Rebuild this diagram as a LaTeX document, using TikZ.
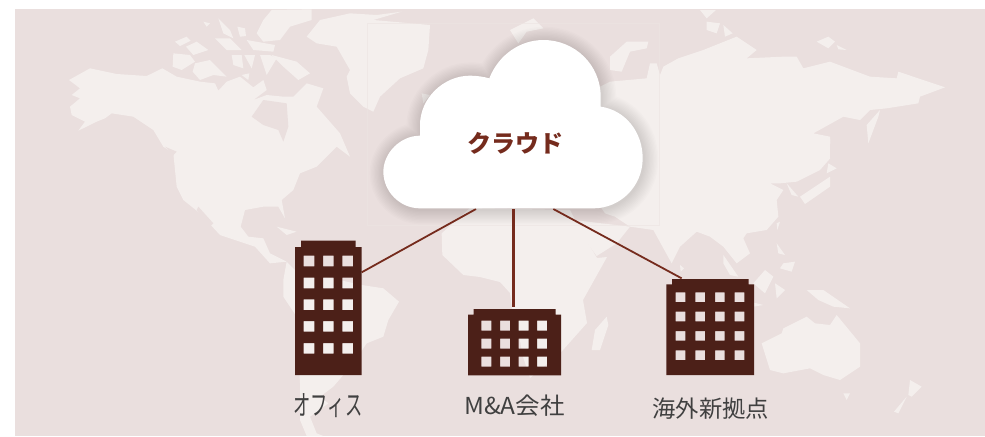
\documentclass[tikz,border=0pt]{standalone}
\usepackage{fontspec}
\newfontfamily\cjk{Noto Sans CJK JP}
\definecolor{seabg}{HTML}{EADFDE}
\definecolor{land}{HTML}{F4EFED}
\definecolor{frameline}{HTML}{EDE4E2}
\definecolor{bldg}{HTML}{4C2018}
\definecolor{wire}{HTML}{752B1D}
\definecolor{lbl}{HTML}{404040}
\tikzset{
  landpart/.style={fill=land,draw=none},
  seapart/.style={fill=seabg,draw=none},
  bldgbody/.style={fill=bldg,even odd rule,draw=none},
  wireline/.style={draw=wire,line width=1.35pt},
  bldglabel/.style={text=lbl,inner sep=0pt,font=\cjk\fontsize{17.5}{20}\selectfont},
  cloudlabel/.style={text=wire,inner sep=0pt,font=\cjk\bfseries\fontsize{18}{21}\selectfont}
}
\newcommand{\cloudshape}{(150,550) .. controls (90,550) and (40,500) .. (40,440) .. controls (40,385) and (90,332) .. (150,332) -- (150,300) .. controls (150,220) and (220,152) .. (300,152) .. controls (320,152) and (340,155) .. (358,160) .. controls (385,90) and (450,45) .. (520,45) .. controls (615,45) and (692,120) .. (692,215) -- (692,245) .. controls (765,255) and (818,320) .. (818,400) .. controls (818,485) and (750,550) .. (670,550) -- cycle}
\begin{document}
\begin{tikzpicture}[x=.25pt,y=-.25pt]
\useasboundingbox (0,0) rectangle (2955,1308);
\fill[white] (0,0) rectangle (2955,1308);
\fill[seabg] (45,27) rectangle (2955,1308);
\begin{scope}
\clip (45,27) rectangle (2955,1308);
% ---- Americas, Greenland, Arctic
\fill[landpart] (207,240) -- (270,205) -- (350,222) -- (440,228) -- (487,205) -- (530,230) -- (600,245) -- (645,250) -- (655,272) -- (680,245) -- (720,230) -- (760,262) -- (790,240) -- (800,270) -- (760,300) -- (800,285) -- (850,290) -- (880,290) -- (920,250) -- (970,265) -- (950,320) -- (985,360) -- (1020,400) -- (1050,470) -- (1010,440) -- (950,500) -- (900,520) -- (880,570) -- (845,600) -- (855,655) -- (835,620) -- (790,620) -- (735,630) -- (722,680) -- (745,710) -- (790,715) -- (810,760) -- (860,785) -- (810,790) -- (765,740) -- (720,725) -- (660,705) -- (600,640) -- (550,600) -- (530,560) -- (520,460) -- (490,440) -- (460,390) -- (400,350) -- (335,340) -- (315,355) -- (290,365) -- (235,392) -- (255,365) -- (215,345) -- (210,320) -- (240,295) -- (215,285) -- (240,265) -- cycle;
\fill[seapart] (755,350) -- (790,300) -- (860,310) -- (865,380) -- (850,425) -- (835,390) -- (790,375) -- cycle;
\fill[seapart] (495,440) -- (530,455) -- (520,465) -- cycle;
\fill[seapart] (595,620) -- (640,670) -- (630,680) -- (590,630) -- cycle;
\fill[landpart] (830,680) -- (890,695) -- (860,705) -- cycle;
\fill[landpart] (860,785) -- (885,810) -- (1085,855) -- (1150,865) -- (1197,905) -- (1165,960) -- (1150,1010) -- (1100,1030) -- (1060,1090) -- (1000,1160) -- (960,1190) -- (985,1210) -- (930,1250) -- (950,1300) -- (970,1308) -- (920,1308) -- (900,1260) -- (900,1150) -- (890,950) -- (850,890) -- (850,840) -- cycle;
\fill[landpart] (920,110) -- (960,60) -- (1050,40) -- (1130,45) -- (1205,35) -- (1120,60) -- (1290,75) -- (1285,150) -- (1270,205) -- (1200,235) -- (1140,290) -- (1120,335) -- (1090,320) -- (1050,280) -- (1040,230) -- (1050,210) -- (1010,140) -- (950,130) -- cycle;
\fill[landpart] (770,100) -- (790,60) -- (815,30) -- (935,28) -- (935,60) -- (870,80) -- (840,120) -- (790,125) -- cycle;
\fill[landpart] (525,125) -- (560,110) -- (572,122) -- (540,138) -- cycle;
\fill[landpart] (558,140) -- (590,125) -- (625,150) -- (580,165) -- cycle;
\fill[landpart] (520,160) -- (570,165) -- (585,185) -- (545,210) -- (518,200) -- cycle;
\fill[landpart] (585,190) -- (630,180) -- (680,230) -- (640,225) -- (600,240) -- (578,215) -- cycle;
\fill[landpart] (610,65) -- (630,70) -- (620,80) -- cycle;
\fill[landpart] (655,55) -- (690,90) -- (700,115) -- (670,100) -- cycle;
\fill[landpart] (645,115) -- (690,115) -- (725,150) -- (680,150) -- cycle;
\fill[landpart] (712,80) -- (735,85) -- (738,108) -- (720,110) -- cycle;
\fill[landpart] (740,120) -- (825,135) -- (820,155) -- (760,150) -- cycle;
\fill[landpart] (695,165) -- (725,165) -- (730,205) -- (700,195) -- cycle;
\fill[landpart] (733,165) -- (765,165) -- (755,205) -- cycle;
\fill[landpart] (780,165) -- (810,165) -- (830,175) -- (800,225) -- cycle;
\fill[landpart] (815,165) -- (890,185) -- (930,220) -- (895,240) -- (850,200) -- cycle;
\fill[landpart] (725,225) -- (748,220) -- (745,240) -- cycle;
\fill[landpart] (1265,280) -- (1290,285) -- (1270,310) -- cycle;
% ---- Africa
\fill[landpart] (1410,624) -- (1325,700) -- (1327,765) -- (1390,825) -- (1440,831) -- (1500,846) -- (1530,879) -- (1536,924) -- (1554,990) -- (1569,1071) -- (1590,1134) -- (1680,1060) -- (1761,969) -- (1749,900) -- (1821,771) -- (1791,774) -- (1740,690) -- (1710,630) -- cycle;
\begin{scope}[shift={(1470,0)}]
\fill[landpart] (250,660) -- (420,680) -- (380,730) -- (320,768) -- (270,700) -- cycle;
\fill[landpart] (350,950) -- (355,975) -- (330,1050) -- (305,1050) -- (315,990) -- cycle;
\fill[landpart] (360,245) -- (470,235) -- (480,190) -- (500,190) -- (510,225) -- (520,200) -- (565,175) -- (640,150) -- (740,110) -- (800,150) -- (770,175) -- (880,170) -- (920,170) -- (940,205) -- (1020,185) -- (1140,230) -- (1220,235) -- (1225,215) -- (1365,262) -- (1290,290) -- (1285,310) -- (1190,325) -- (1140,330) -- (1110,360) -- (1060,350) -- (970,400) -- (1020,410) -- (1025,470) -- (990,510) -- (920,545) -- (870,550) -- (840,550) -- (880,570) -- (860,600) -- (865,650) -- (830,690) -- (770,700) -- (760,715) -- (780,760) -- (740,790) -- (700,740) -- (660,710) -- (620,695) -- (570,740) -- (545,790) -- (490,690) -- (420,680) -- (375,650) -- (345,640) -- (250,500) -- (250,300) -- cycle;
\fill[seapart] (1020,420) -- (1030,480) -- (1020,475) -- cycle;
\fill[landpart] (1170,330) -- (1130,375) -- (1135,430) -- (1165,350) -- cycle;
\fill[landpart] (930,590) -- (1020,530) -- (1020,560) -- (945,612) -- cycle;
\fill[landpart] (1010,520) -- (1040,505) -- (1015,490) -- cycle;
\fill[landpart] (890,550) -- (925,590) -- (905,585) -- cycle;
\fill[landpart] (860,670) -- (870,665) -- (862,690) -- cycle;
\fill[landpart] (860,730) -- (885,765) -- (865,760) -- cycle;
\fill[landpart] (880,790) -- (915,785) -- (905,815) -- (870,805) -- cycle;
\fill[landpart] (790,850) -- (825,810) -- (850,830) -- (825,880) -- cycle;
\fill[landpart] (855,850) -- (885,870) -- (860,895) -- cycle;
\fill[landpart] (700,765) -- (745,830) -- (720,825) -- (700,790) -- cycle;
\fill[landpart] (570,795) -- (582,805) -- (572,815) -- cycle;
\fill[landpart] (780,905) -- (820,915) -- (790,920) -- cycle;
\fill[landpart] (950,870) -- (1000,870) -- (1080,925) -- (1030,920) -- (985,900) -- cycle;
\fill[landpart] (815,1030) -- (875,1000) -- (880,985) -- (950,950) -- (975,970) -- (1020,975) -- (1040,945) -- (1110,1030) -- (1110,1100) -- (1050,1140) -- (1000,1125) -- (960,1105) -- (880,1120) -- (840,1110) -- cycle;
\fill[landpart] (1060,1180) -- (1080,1180) -- (1070,1200) -- cycle;
\fill[landpart] (1260,1140) -- (1295,1160) -- (1265,1190) -- (1255,1185) -- cycle;
\fill[landpart] (1250,1190) -- (1225,1240) -- (1212,1235) -- cycle;
\fill[landpart] (630,30) -- (678,30) -- (650,55) -- cycle;
\fill[landpart] (650,65) -- (690,70) -- (680,100) -- (650,90) -- cycle;
\fill[landpart] (700,75) -- (728,100) -- (705,110) -- cycle;
\fill[landpart] (360,210) -- (360,170) -- (410,125) -- (475,125) -- (470,145) -- (420,155) -- (395,215) -- cycle;
\fill[landpart] (60,90) -- (130,55) -- (160,85) -- (110,95) -- (85,130) -- cycle;
\fill[landpart] (980,125) -- (1015,110) -- (1035,125) -- (1015,145) -- cycle;
\fill[landpart] (1040,135) -- (1070,150) -- (1045,148) -- cycle;
\end{scope}
\end{scope}
% faint frame
\draw[frameline,line width=.3pt,opacity=.6] (1103,70) rectangle (1978,675);
% connectors
\coordinate (cloudA) at (1428,627);
\coordinate (cloudB) at (1540,627);
\coordinate (cloudC) at (1660,627);
\coordinate (officePort) at (1085,817);
\coordinate (maPort) at (1540,920);
\coordinate (newPort) at (2045,835);
% cloud with soft shadow
\begin{scope}[shift={(1113,79)}]
\foreach \w in {22,20,18,16,14,12,10,8,6,4,2}{
  \draw[black,opacity=.013,line width=\w pt,line join=round] \cloudshape;
}
\end{scope}
\draw[wireline] (cloudA) -- (officePort);
\draw[wireline,line width=1.9pt] (cloudB) -- (maPort);
\draw[wireline] (cloudC) -- (newPort);
\begin{scope}[shift={(1110,75)}]
\fill[white] \cloudshape;
\end{scope}
\node[cloudlabel] (cloud) at (1545,430) {クラウド};
% buildings: windows are holes through which the map shows
\fill[bldgbody] (885,1125) -- (885,741) -- (903,741) -- (903,722) -- (1067,722) -- (1067,741) -- (1085,741) -- (1085,1125) -- cycle
  \foreach \wx in {911,969,1027}{ \foreach \wy in {767,833,898,963,1029}{ (\wx,\wy) rectangle ++(32,32) } };
\fill[bldgbody] (1404,1126) -- (1404,944) -- (1421,944) -- (1421,927) -- (1667,927) -- (1667,944) -- (1683,944) -- (1683,1126) -- cycle
  \foreach \wx in {1444,1500,1556,1611}{ \foreach \wy in {962,1016,1070}{ (\wx,\wy) rectangle ++(30,30) } };
\fill[bldgbody] (1999,1125) -- (1999,853) -- (2016,853) -- (2016,837) -- (2246,837) -- (2246,853) -- (2262,853) -- (2262,1125) -- cycle
  \foreach \wx in {2027,2086,2145,2204}{ \foreach \wy in {877,935,993,1051}{ (\wx,\wy) rectangle ++(29,29) } };
% labels
\node[bldglabel] (office) at (984,1217) {\scalebox{.74}[1.2]{オフィス}};
\node[bldglabel] (ma) at (1543,1217) {\scalebox{1.05}[1]{M\&A会社}};
\node[bldglabel] (newsite) at (2132,1227) {海外新拠点};
\end{tikzpicture}
\end{document}
